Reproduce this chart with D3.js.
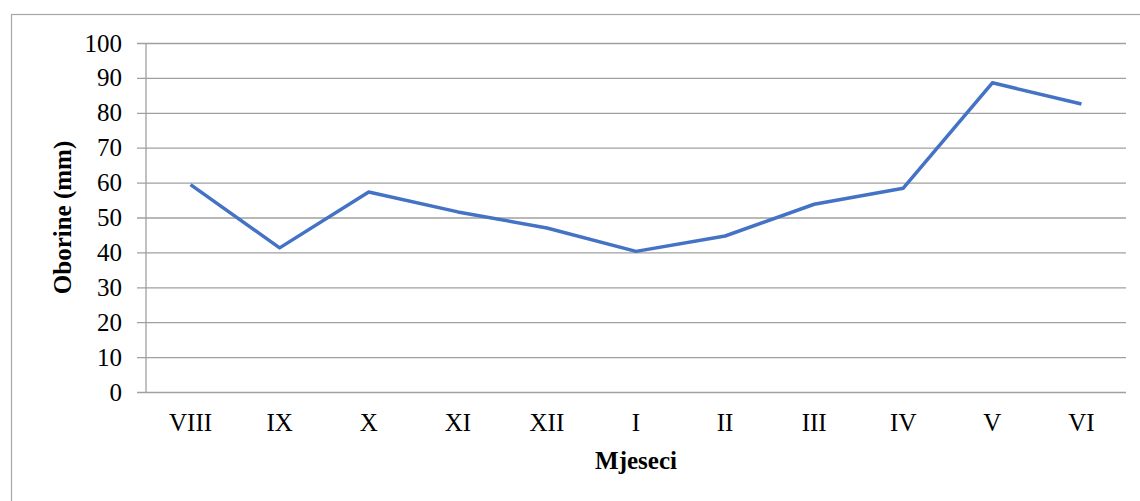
<!DOCTYPE html>
<html>
<head>
	<meta charset="utf-8">
	<script src="https://cdnjs.cloudflare.com/ajax/libs/d3/7.8.5/d3.min.js"></script>
	<style>
		body { margin: 0; background: #fff; }
		svg { display: block; }
		text { font-family: "Liberation Serif", "Times New Roman", serif; fill: #000; }
	</style>
</head>
<body>
	<svg width="1140" height="501" id="chart"></svg>
	<script>
	//chart data
	var months = ["VIII", "IX", "X", "XI", "XII", "I", "II", "III", "IV", "V", "VI"];
	var oborine = [59.4, 41.3, 57.3, 51.6, 47.0, 40.3, 44.7, 53.8, 58.4, 88.6, 82.5];
	var yTicks = [0, 10, 20, 30, 40, 50, 60, 70, 80, 90, 100];

	var serif = '"Liberation Serif", "Times New Roman", serif';

	//define chart margins
	var svg = d3.select("svg"),
		margin = {top: 43, right: 14, bottom: 109, left: 146},
		width = svg.attr("width") - margin.left - margin.right,
		height = svg.attr("height") - margin.top - margin.bottom;

	//outer frame
	svg.append("rect")
		.attr("x", 11.5).attr("y", 14.5)
		.attr("width", 1140).attr("height", 600)
		.attr("fill", "none")
		.attr("stroke", "#a6a6a6")
		.attr("stroke-width", 1.2);

	//define scales
	var x = d3.scaleBand().domain(months).range([0, width]),
		y = d3.scaleLinear().domain([0, 100]).range([height, 0]);

	var g = svg.append("g").attr("transform", "translate(" + margin.left + "," + margin.top + ")");

	//gridlines + y axis
	var yAxis = g.append("g")
		.call(d3.axisLeft(y).tickValues(yTicks).tickSize(-width).tickPadding(24).tickSizeOuter(0));
	yAxis.attr("font-family", serif);
	yAxis.select(".domain").remove();
	yAxis.selectAll(".tick line")
		.attr("x1", -9)
		.attr("stroke", "#a0a0a0")
		.attr("stroke-width", 1.3);
	yAxis.selectAll(".tick text")
		.style("font-family", serif)
		.style("font-size", "25px")
		.attr("fill", "#000");

	//vertical axis line
	g.append("line")
		.attr("x1", 0).attr("x2", 0)
		.attr("y1", 0).attr("y2", height)
		.attr("stroke", "#a0a0a0")
		.attr("stroke-width", 1.3);

	//x axis labels
	var xAxis = g.append("g")
		.attr("transform", "translate(0," + height + ")")
		.call(d3.axisBottom(x).tickSize(0).tickPadding(21));
	xAxis.attr("font-family", serif);
	xAxis.select(".domain").remove();
	xAxis.selectAll(".tick text")
		.style("font-family", serif)
		.style("font-size", "25px")
		.attr("fill", "#000");

	//line
	var line = d3.line()
		.x(function(d, i) { return x(months[i]) + x.bandwidth() / 2; })
		.y(function(d) { return y(d); });

	g.append("path")
		.datum(oborine)
		.attr("fill", "none")
		.attr("stroke", "#4472c4")
		.attr("stroke-width", 3.5)
		.attr("stroke-linejoin", "round")
		.attr("d", line);

	//axis titles
	svg.append("text")
		.attr("x", margin.left + width / 2)
		.attr("y", 469)
		.attr("text-anchor", "middle")
		.style("font-family", serif)
		.style("font-size", "25px")
		.style("font-weight", "bold")
		.text("Mjeseci");

	svg.append("text")
		.attr("transform", "translate(71," + (margin.top + height / 2) + ") rotate(-90)")
		.attr("text-anchor", "middle")
		.style("font-family", serif)
		.style("font-size", "25px")
		.style("font-weight", "bold")
		.text("Oborine (mm)");
	</script>
</body>
</html>
